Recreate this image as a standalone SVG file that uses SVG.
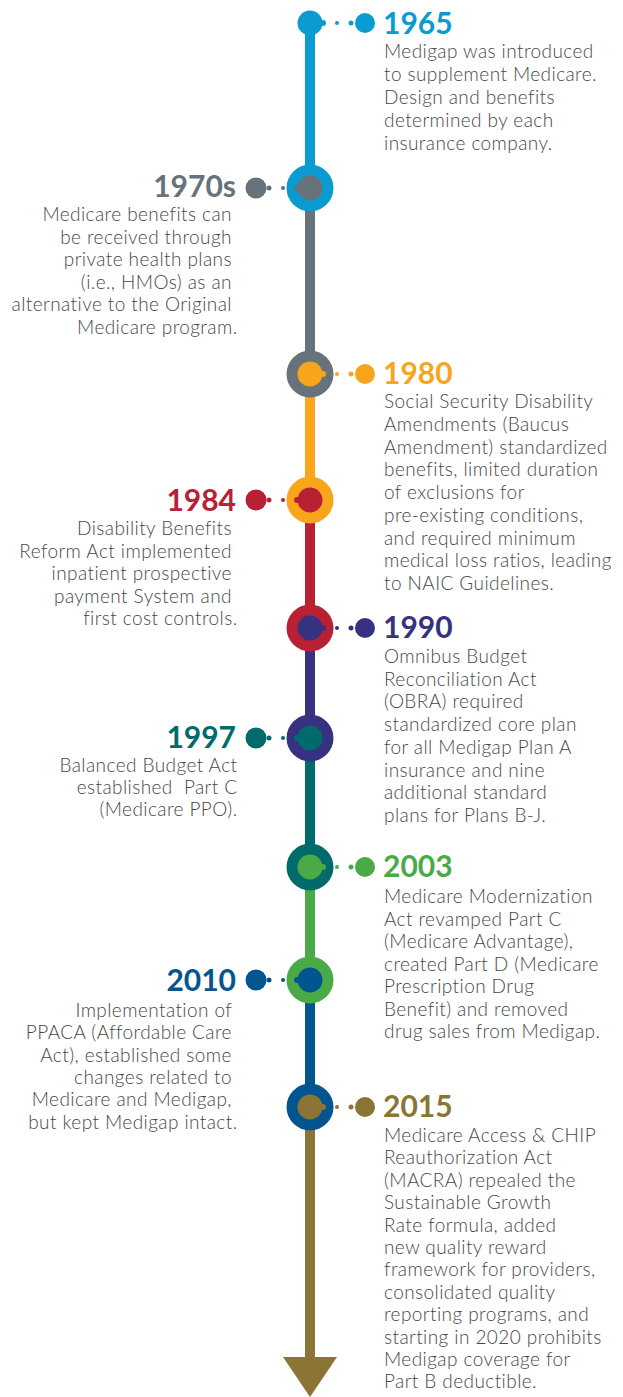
<svg xmlns="http://www.w3.org/2000/svg" width="623" height="1397" viewBox="0 0 623 1397">
  <style>
    .year { font-family: Lato, "Liberation Sans", sans-serif; font-weight: 700; font-size: 30px; }
    .body { font-family: Lato, "Liberation Sans", sans-serif; font-weight: 300; font-size: 19px; letter-spacing: 0.42px; fill: #474747; }
    .r { text-anchor: start; }
    .l { text-anchor: end; }
    .seg { stroke-width: 10; fill: none; }
  </style>

  <!-- vertical timeline, one coloured segment per period -->
  <g id="connectors">
    <line class="seg" x1="310" y1="23" x2="310" y2="188" stroke="#0a9bd0"/>
    <line class="seg" x1="310" y1="188" x2="310" y2="374" stroke="#67727a"/>
    <line class="seg" x1="310" y1="374" x2="310" y2="500" stroke="#f8a51b"/>
    <line class="seg" x1="310" y1="500" x2="310" y2="628" stroke="#b82134"/>
    <line class="seg" x1="310" y1="628" x2="310" y2="738" stroke="#363180"/>
    <line class="seg" x1="310" y1="738" x2="310" y2="867" stroke="#006b6a"/>
    <line class="seg" x1="310" y1="867" x2="310" y2="980" stroke="#4aaa47"/>
    <line class="seg" x1="310" y1="980" x2="310" y2="1107" stroke="#02558f"/>
    <line class="seg" x1="310" y1="1107" x2="310" y2="1360" stroke="#8a7535"/>
    <polygon points="283,1357 337,1357 310,1397" fill="#8a7535"/>
  </g>

  <!-- 1965 -->
  <g id="n1965" fill="#0a9bd0">
    <circle cx="310" cy="23" r="12.5"/>
    <circle cx="323" cy="23" r="3"/>
    <circle cx="337" cy="23" r="2"/>
    <circle cx="351" cy="23" r="2.5"/>
    <circle cx="365" cy="23" r="10"/>
    <text class="year r" x="383" y="34">1965</text>
    <text class="body r">
      <tspan x="384" y="58">Medigap was introduced</tspan>
      <tspan x="384" y="81">to supplement Medicare.</tspan>
      <tspan x="384" y="104">Design and benefits</tspan>
      <tspan x="384" y="127">determined by each</tspan>
      <tspan x="384" y="150">insurance company.</tspan>
    </text>
  </g>

  <!-- 1970s -->
  <g id="n1970s" fill="#67727a">
    <circle cx="310" cy="188" r="23.5" fill="#0a9bd0"/>
    <circle cx="310" cy="188" r="12.5"/>
    <circle cx="297" cy="188" r="3"/>
    <circle cx="283" cy="188" r="2"/>
    <circle cx="269" cy="188" r="2.5"/>
    <circle cx="256" cy="188" r="10.5"/>
    <text class="year l" x="236" y="197">1970s</text>
    <text class="body l">
      <tspan x="237.5" y="221">Medicare benefits can</tspan>
      <tspan x="237.5" y="243.6">be received through</tspan>
      <tspan x="237.5" y="266.2">private health plans</tspan>
      <tspan x="237.5" y="288.8">(i.e., HMOs) as an</tspan>
      <tspan x="237.5" y="311.4">alternative to the Original</tspan>
      <tspan x="237.5" y="334">Medicare program.</tspan>
    </text>
  </g>

  <!-- 1980 -->
  <g id="n1980" fill="#f8a51b">
    <circle cx="310" cy="374" r="23.5" fill="#67727a"/>
    <circle cx="310" cy="374" r="12.5"/>
    <circle cx="323" cy="374" r="3"/>
    <circle cx="337" cy="374" r="2"/>
    <circle cx="351" cy="374" r="2.5"/>
    <circle cx="365" cy="374" r="10"/>
    <text class="year r" x="383" y="384">1980</text>
    <text class="body r">
      <tspan x="384" y="408">Social Security Disability</tspan>
      <tspan x="384" y="430.75">Amendments (Baucus</tspan>
      <tspan x="384" y="453.5">Amendment) standardized</tspan>
      <tspan x="384" y="476.25">benefits, limited duration</tspan>
      <tspan x="384" y="499">of exclusions for</tspan>
      <tspan x="384" y="521.75">pre-existing conditions,</tspan>
      <tspan x="384" y="544.5">and required minimum</tspan>
      <tspan x="384" y="567.25">medical loss ratios, leading</tspan>
      <tspan x="384" y="590">to NAIC Guidelines.</tspan>
    </text>
  </g>

  <!-- 1984 -->
  <g id="n1984" fill="#b82134">
    <circle cx="310" cy="500" r="23.5" fill="#f8a51b"/>
    <circle cx="310" cy="500" r="12.5"/>
    <circle cx="297" cy="500" r="3"/>
    <circle cx="283" cy="500" r="2"/>
    <circle cx="269" cy="500" r="2.5"/>
    <circle cx="256" cy="500" r="10.5"/>
    <text class="year l" x="236" y="511">1984</text>
    <text class="body l">
      <tspan x="237.5" y="535">Disability Benefits</tspan>
      <tspan x="237.5" y="557.5">Reform Act implemented</tspan>
      <tspan x="237.5" y="580">inpatient prospective</tspan>
      <tspan x="237.5" y="602.5">payment System and</tspan>
      <tspan x="237.5" y="625">first cost controls.</tspan>
    </text>
  </g>

  <!-- 1990 -->
  <g id="n1990" fill="#363180">
    <circle cx="310" cy="628" r="23.5" fill="#b82134"/>
    <circle cx="310" cy="628" r="12.5"/>
    <circle cx="323" cy="628" r="3"/>
    <circle cx="337" cy="628" r="2"/>
    <circle cx="351" cy="628" r="2.5"/>
    <circle cx="365" cy="628" r="10"/>
    <text class="year r" x="383" y="638">1990</text>
    <text class="body r">
      <tspan x="384" y="663">Omnibus Budget</tspan>
      <tspan x="384" y="685.7">Reconciliation Act</tspan>
      <tspan x="384" y="708.4">(OBRA) required</tspan>
      <tspan x="384" y="731.1">standardized core plan</tspan>
      <tspan x="384" y="753.8">for all Medigap Plan A</tspan>
      <tspan x="384" y="776.5">insurance and nine</tspan>
      <tspan x="384" y="799.2">additional standard</tspan>
      <tspan x="384" y="822">plans for Plans B-J.</tspan>
    </text>
  </g>

  <!-- 1997 -->
  <g id="n1997" fill="#006b6a">
    <circle cx="310" cy="738" r="23.5" fill="#363180"/>
    <circle cx="310" cy="738" r="12.5"/>
    <circle cx="297" cy="738" r="3"/>
    <circle cx="283" cy="738" r="2"/>
    <circle cx="269" cy="738" r="2.5"/>
    <circle cx="256" cy="738" r="10.5"/>
    <text class="year l" x="236" y="748">1997</text>
    <text class="body l" xml:space="preserve"><tspan x="237.5" y="772">Balanced Budget Act</tspan><tspan x="237.5" y="794">established  Part C</tspan><tspan x="237.5" y="816">(Medicare PPO).</tspan></text>
  </g>

  <!-- 2003 -->
  <g id="n2003" fill="#4aaa47">
    <circle cx="310" cy="867" r="23.5" fill="#006b6a"/>
    <circle cx="310" cy="867" r="12.5"/>
    <circle cx="323" cy="867" r="3"/>
    <circle cx="337" cy="867" r="2"/>
    <circle cx="351" cy="867" r="2.5"/>
    <circle cx="365" cy="867" r="10"/>
    <text class="year r" x="383" y="877">2003</text>
    <text class="body r">
      <tspan x="384" y="903">Medicare Modernization</tspan>
      <tspan x="384" y="925.5">Act revamped Part C</tspan>
      <tspan x="384" y="948">(Medicare Advantage),</tspan>
      <tspan x="384" y="970.5">created Part D (Medicare</tspan>
      <tspan x="384" y="993">Prescription Drug</tspan>
      <tspan x="384" y="1015.5">Benefit) and removed</tspan>
      <tspan x="384" y="1038">drug sales from Medigap.</tspan>
    </text>
  </g>

  <!-- 2010 -->
  <g id="n2010" fill="#02558f">
    <circle cx="310" cy="980" r="23.5" fill="#4aaa47"/>
    <circle cx="310" cy="980" r="12.5"/>
    <circle cx="297" cy="980" r="3"/>
    <circle cx="283" cy="980" r="2"/>
    <circle cx="269" cy="980" r="2.5"/>
    <circle cx="256" cy="980" r="10.5"/>
    <text class="year l" x="236" y="991">2010</text>
    <text class="body l">
      <tspan x="237.5" y="1017">Implementation of</tspan>
      <tspan x="237.5" y="1039.3">PPACA (Affordable Care</tspan>
      <tspan x="237.5" y="1061.6">Act), established some</tspan>
      <tspan x="237.5" y="1083.9">changes related to</tspan>
      <tspan x="237.5" y="1106.2">Medicare and Medigap,</tspan>
      <tspan x="237.5" y="1128.5">but kept Medigap intact.</tspan>
    </text>
  </g>

  <!-- 2015 -->
  <g id="n2015" fill="#8a7535">
    <circle cx="310" cy="1107" r="23.5" fill="#02558f"/>
    <circle cx="310" cy="1107" r="12.5"/>
    <circle cx="323" cy="1107" r="3"/>
    <circle cx="337" cy="1107" r="2"/>
    <circle cx="351" cy="1107" r="2.5"/>
    <circle cx="365" cy="1107" r="10"/>
    <text class="year r" x="383" y="1117">2015</text>
    <text class="body r">
      <tspan x="384" y="1142">Medicare Access &amp; CHIP</tspan>
      <tspan x="384" y="1164.4">Reauthorization Act</tspan>
      <tspan x="384" y="1186.8">(MACRA) repealed the</tspan>
      <tspan x="384" y="1209.2">Sustainable Growth</tspan>
      <tspan x="384" y="1231.6">Rate formula, added</tspan>
      <tspan x="384" y="1254">new quality reward</tspan>
      <tspan x="384" y="1276.4">framework for providers,</tspan>
      <tspan x="384" y="1298.8">consolidated quality</tspan>
      <tspan x="384" y="1321.2">reporting programs, and</tspan>
      <tspan x="384" y="1343.6">starting in 2020 prohibits</tspan>
      <tspan x="384" y="1366">Medigap coverage for</tspan>
      <tspan x="384" y="1388">Part B deductible.</tspan>
    </text>
  </g>
</svg>
